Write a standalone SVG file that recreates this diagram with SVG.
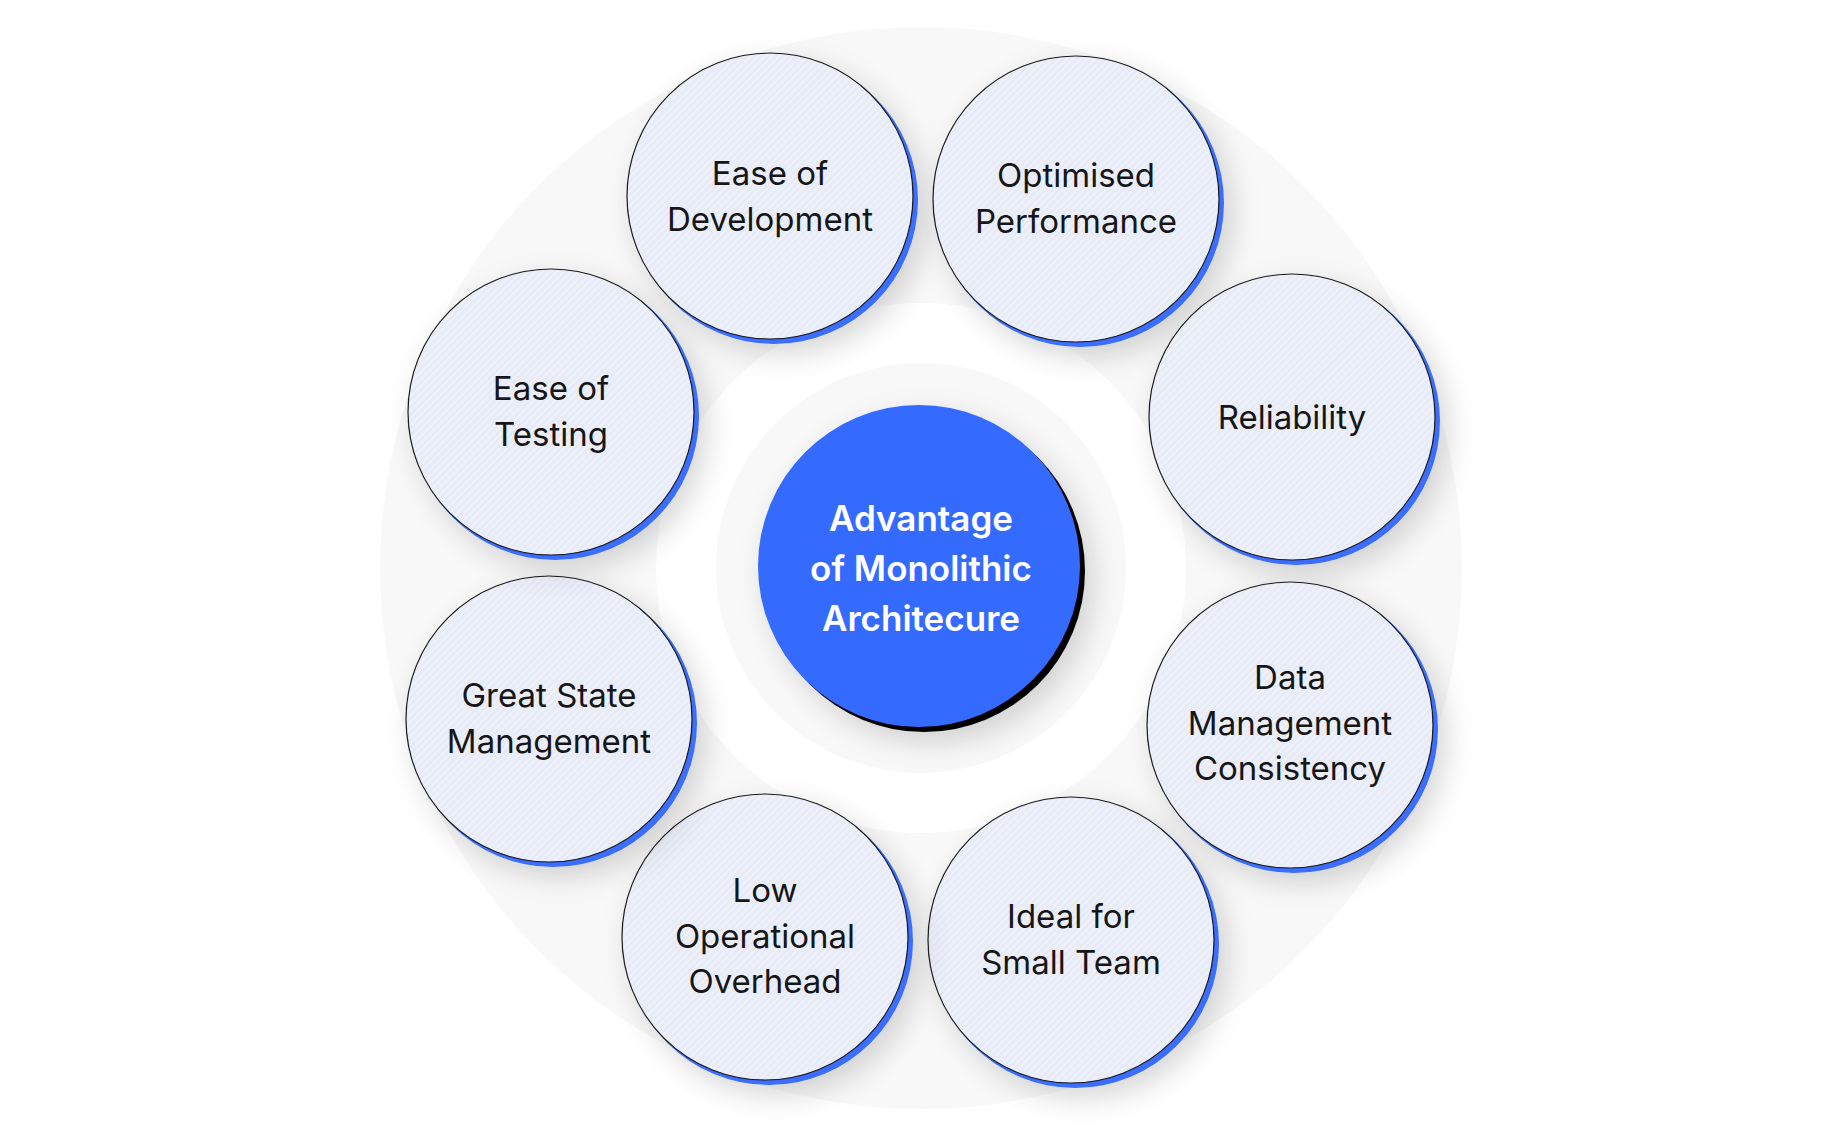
<svg xmlns="http://www.w3.org/2000/svg" width="1842" height="1137" viewBox="0 0 1842 1137">
  <defs>
    <pattern id="hatch" width="5" height="5" patternUnits="userSpaceOnUse" patternTransform="rotate(45)">
      <rect width="5" height="5" fill="#e7ebf8"/>
      <rect x="0" y="0" width="1.6" height="5" fill="#f0f2f8"/>
    </pattern>
    <filter id="soft" x="-40%" y="-40%" width="180%" height="180%">
      <feDropShadow dx="8" dy="10" stdDeviation="14" flood-color="#000" flood-opacity="0.16"/>
    </filter>
    <style>
      .bubble { fill: url(#hatch); stroke: #1a1a1a; stroke-width: 1.2; }
      .rim { fill: #3a6dff; }
      .lbl { font-family: Inter, "Noto Sans", "Liberation Sans", sans-serif; font-size: 33px; fill: #161616; text-anchor: middle; }
      .ctr { font-family: Inter, "Noto Sans", "Liberation Sans", sans-serif; font-size: 35px; font-weight: 600; fill: #ffffff; text-anchor: middle; }
    </style>
  </defs>

  <rect width="1842" height="1137" fill="#ffffff"/>

  <!-- background rings -->
  <circle cx="921" cy="568" r="541" fill="#f8f8f8"/>
  <circle cx="921" cy="568" r="265" fill="#ffffff"/>
  <circle cx="921" cy="568" r="205" fill="#f8f8f9"/>

  <g id="connectors"></g>

  <g id="center">
    <g filter="url(#soft)">
      <circle cx="924" cy="571" r="161" fill="#000000"/>
      <circle cx="919" cy="566" r="161" fill="#356bff"/>
    </g>
    <text class="ctr" x="921" y="531">Advantage</text>
    <text class="ctr" x="921" y="581">of Monolithic</text>
    <text class="ctr" x="921" y="631">Architecure</text>
  </g>

  <g id="ease-dev">
    <g filter="url(#soft)">
      <circle class="rim" cx="774" cy="200" r="144"/>
      <circle class="bubble" cx="770" cy="196" r="143"/>
    </g>
    <text class="lbl" x="770" y="185">Ease of</text>
    <text class="lbl" x="770" y="231">Development</text>
  </g>

  <g id="optimised">
    <g filter="url(#soft)">
      <circle class="rim" cx="1080" cy="203" r="144"/>
      <circle class="bubble" cx="1076" cy="199" r="143"/>
    </g>
    <text class="lbl" x="1076" y="187">Optimised</text>
    <text class="lbl" x="1076" y="233">Performance</text>
  </g>

  <g id="reliability">
    <g filter="url(#soft)">
      <circle class="rim" cx="1296" cy="421" r="144"/>
      <circle class="bubble" cx="1292" cy="417" r="143"/>
    </g>
    <text class="lbl" x="1292" y="429">Reliability</text>
  </g>

  <g id="data-mgmt">
    <g filter="url(#soft)">
      <circle class="rim" cx="1294" cy="729" r="144"/>
      <circle class="bubble" cx="1290" cy="725" r="143"/>
    </g>
    <text class="lbl" x="1290" y="689">Data</text>
    <text class="lbl" x="1290" y="735">Management</text>
    <text class="lbl" x="1290" y="780">Consistency</text>
  </g>

  <g id="small-team">
    <g filter="url(#soft)">
      <circle class="rim" cx="1075" cy="944" r="144"/>
      <circle class="bubble" cx="1071" cy="940" r="143"/>
    </g>
    <text class="lbl" x="1071" y="928">Ideal for</text>
    <text class="lbl" x="1071" y="974">Small Team</text>
  </g>

  <g id="low-overhead">
    <g filter="url(#soft)">
      <circle class="rim" cx="769" cy="941" r="144"/>
      <circle class="bubble" cx="765" cy="937" r="143"/>
    </g>
    <text class="lbl" x="765" y="902">Low</text>
    <text class="lbl" x="765" y="948">Operational</text>
    <text class="lbl" x="765" y="993">Overhead</text>
  </g>

  <g id="state-mgmt">
    <g filter="url(#soft)">
      <circle class="rim" cx="553" cy="723" r="144"/>
      <circle class="bubble" cx="549" cy="719" r="143"/>
    </g>
    <text class="lbl" x="549" y="707">Great State</text>
    <text class="lbl" x="549" y="753">Management</text>
  </g>

  <g id="ease-test">
    <g filter="url(#soft)">
      <circle class="rim" cx="555" cy="416" r="144"/>
      <circle class="bubble" cx="551" cy="412" r="143"/>
    </g>
    <text class="lbl" x="551" y="400">Ease of</text>
    <text class="lbl" x="551" y="446">Testing</text>
  </g>
</svg>
